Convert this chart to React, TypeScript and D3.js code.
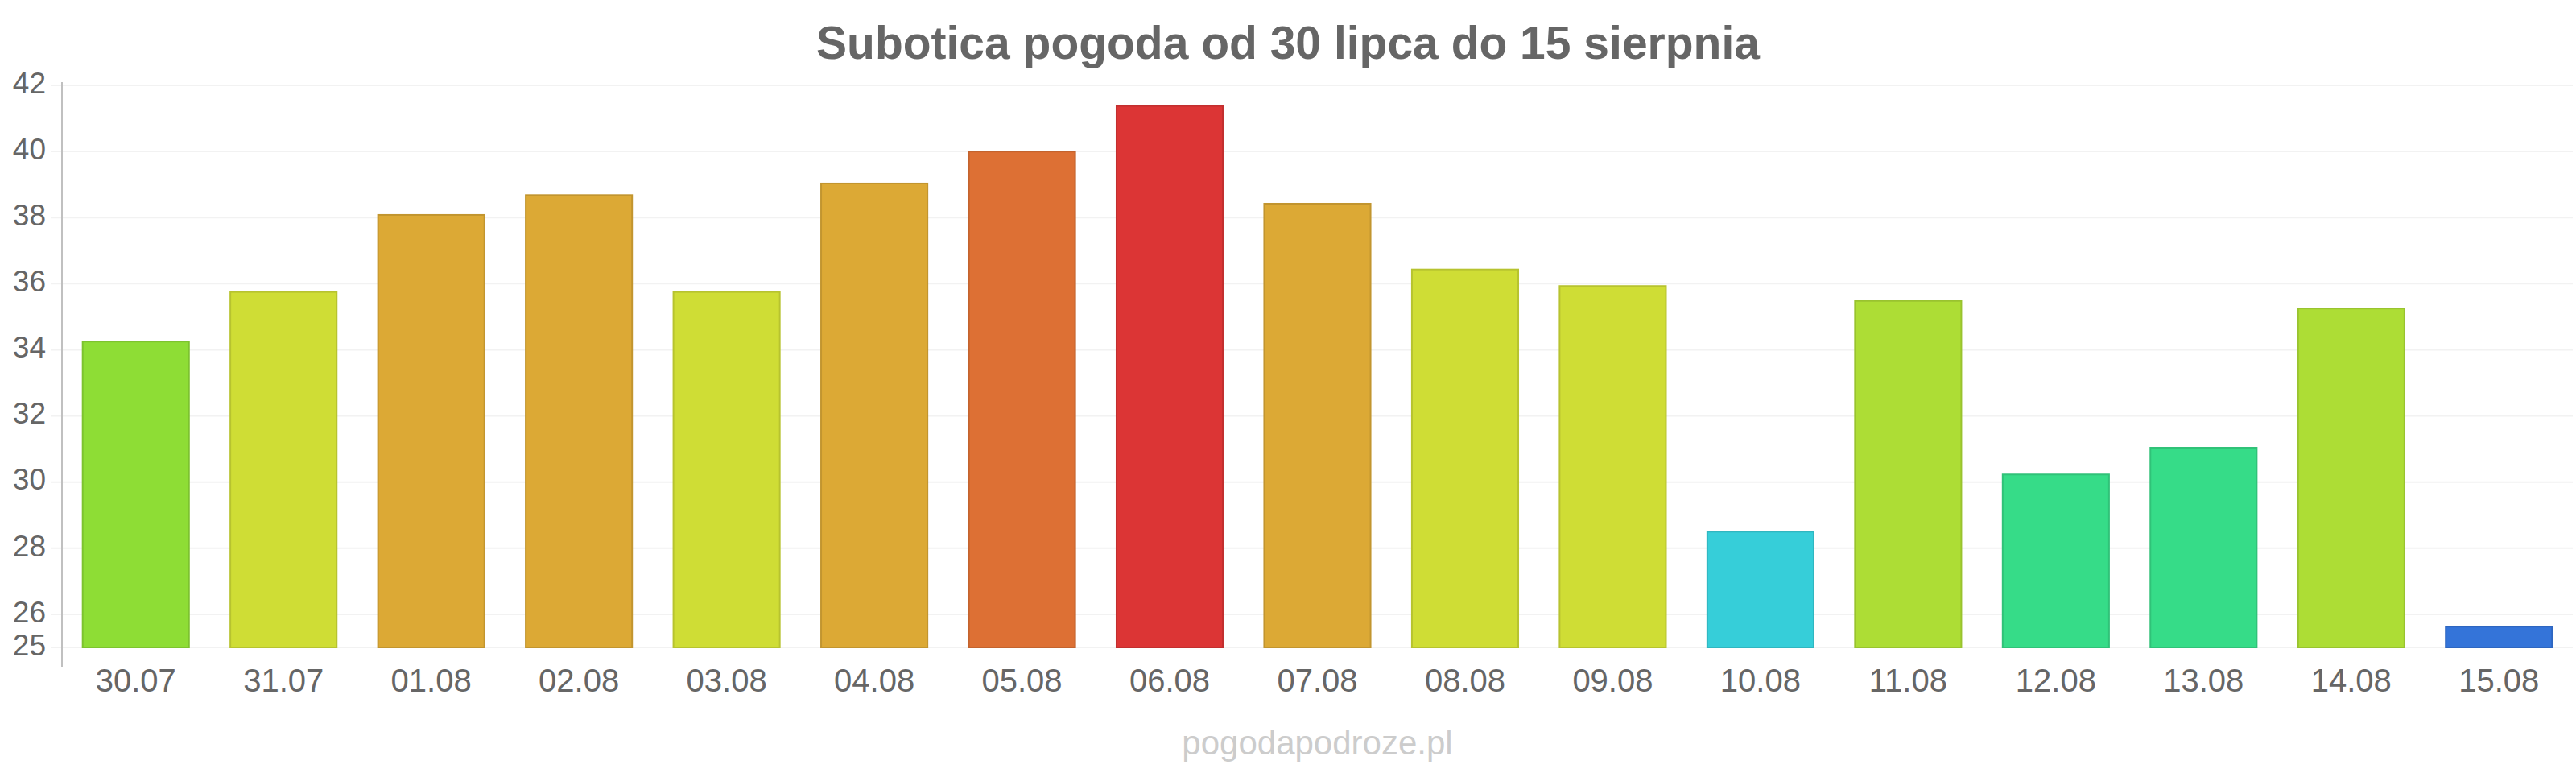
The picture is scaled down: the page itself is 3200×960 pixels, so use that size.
import React from "react";
import * as d3 from "d3";

const categories = ["30.07","31.07","01.08","02.08","03.08","04.08","05.08","06.08","07.08","08.08","09.08","10.08","11.08","12.08","13.08","14.08","15.08"];
const temps = [34.25, 35.75, 38.08, 38.68, 35.75, 39.03, 40.0, 41.38, 38.42, 36.43, 35.93, 28.5, 35.48, 30.23, 31.04, 35.25, 25.63];
const fills = ["#8edd35","#cfdd35","#dca935","#dca935","#cfdd35","#dca935","#dd7034","#dc3535","#dca935","#cfdd35","#cfdd35","#36ced9","#addd35","#36dc88","#36dc88","#addd35","#3474d9"];
const yTicks = [25, 26, 28, 30, 32, 34, 36, 38, 40, 42];
const title = "Subotica pogoda od 30 lipca do 15 sierpnia";
const footer = "pogodapodroze.pl";

const W = 3200, H = 960;
const left = 77, right = 3196, top = 106, bottom = 804;
const FONT = "'Liberation Sans', Arial, sans-serif";

export default function App() {
  const x = d3.scaleBand<string>().domain(categories).range([left, right]).paddingInner(0.28).paddingOuter(0.14);
  const y = d3.scaleLinear().domain([25, 42]).range([bottom, top]);
  return (
    <svg width={W} height={H} style={{ position: "absolute", left: 0, top: 0, background: "#fff" }} fontFamily={FONT}>
      <rect x={0} y={0} width={W} height={H} fill="#fff" />
      <text x={W / 2} y={58} textAnchor="middle" dominantBaseline="middle" fontSize={57} fontWeight="bold" fill="#666">{title}</text>
      {yTicks.map((t) => (
        <g key={t}>
          <line x1={63} x2={right} y1={y(t)} y2={y(t)} stroke="#f2f2f2" strokeWidth={2} />
          <text x={57} y={y(t)} textAnchor="end" dominantBaseline="middle" fontSize={37} fill="#666">{t}</text>
        </g>
      ))}
      <line x1={left} x2={left} y1={top - 4} y2={bottom + 24} stroke="#c0c0c0" strokeWidth={2} />
      {categories.map((c, i) => {
        const fill = fills[i];
        const stroke = d3.color(fill)!.darker(0.35).formatHex();
        return (
          <g key={c}>
            <rect x={x(c)!} y={y(temps[i])} width={x.bandwidth()} height={bottom - y(temps[i])} fill={fill} stroke={stroke} strokeWidth={2} />
            <text x={x(c)! + x.bandwidth() / 2} y={848} textAnchor="middle" dominantBaseline="middle" fontSize={40} fill="#666">{c}</text>
          </g>
        );
      })}
      <text x={(left + right) / 2} y={926} textAnchor="middle" dominantBaseline="middle" fontSize={42} fill="#ccc">{footer}</text>
    </svg>
  );
}
